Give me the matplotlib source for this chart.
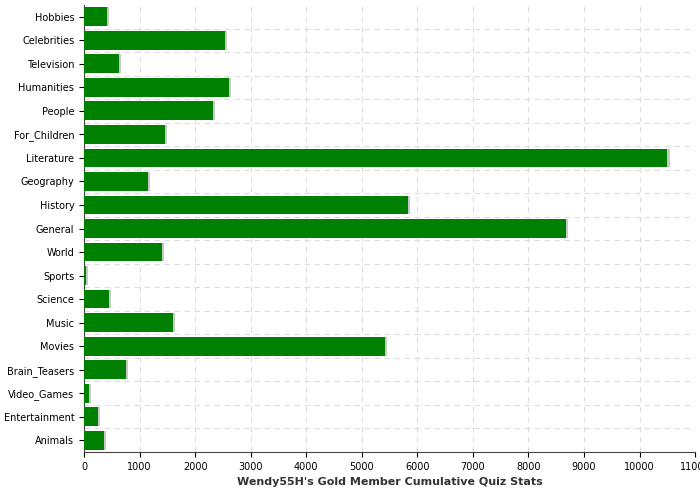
import matplotlib.pyplot as plt

categories = ["Hobbies", "Celebrities", "Television", "Humanities", "People",
              "For_Children", "Literature", "Geography", "History", "General",
              "World", "Sports", "Science", "Music", "Movies", "Brain_Teasers",
              "Video_Games", "Entertainment", "Animals"]
values = [410, 2540, 630, 2610, 2320, 1460, 10500, 1150, 5830, 8670,
          1400, 40, 450, 1600, 5410, 750, 90, 250, 360]
xticks = list(range(0, 11001, 1000))

fig = plt.figure(figsize=(7, 5), dpi=100)
ax = fig.add_axes([0.12, 0.096, 0.873, 0.894])

y = list(range(len(categories)))[::-1]
# light shadow on the right of each bar
ax.barh(y, [v + 40 for v in values], height=0.8, color="#c8c8c8", zorder=2)
ax.barh(y, values, height=0.8, color="#008000", zorder=3)

ax.set_yticks(y)
ax.set_yticklabels(categories, fontsize=7)
ax.set_yticks([i - 0.5 for i in range(1, len(categories))], minor=True)
ax.tick_params(axis="y", which="minor", length=0)
ax.set_xticks(xticks)
ax.set_xticklabels([str(t) for t in xticks], fontsize=7)
ax.set_xlim(0, 11000)
ax.set_ylim(-0.5, len(categories) - 0.5)
ax.grid(True, axis="x", linestyle=(0, (5, 4)), color="#dddddd", linewidth=0.8, zorder=0)
ax.grid(True, axis="y", which="minor", linestyle=(0, (5, 4)), color="#dddddd", linewidth=0.8, zorder=0)
for s in ["top", "right"]:
    ax.spines[s].set_visible(False)
ax.spines["left"].set_color("#444444")
ax.spines["bottom"].set_color("#444444")
ax.set_xlabel("Wendy55H's Gold Member Cumulative Quiz Stats", fontsize=8,
              fontweight="bold", color="#333333")

fig.savefig("out.png")
